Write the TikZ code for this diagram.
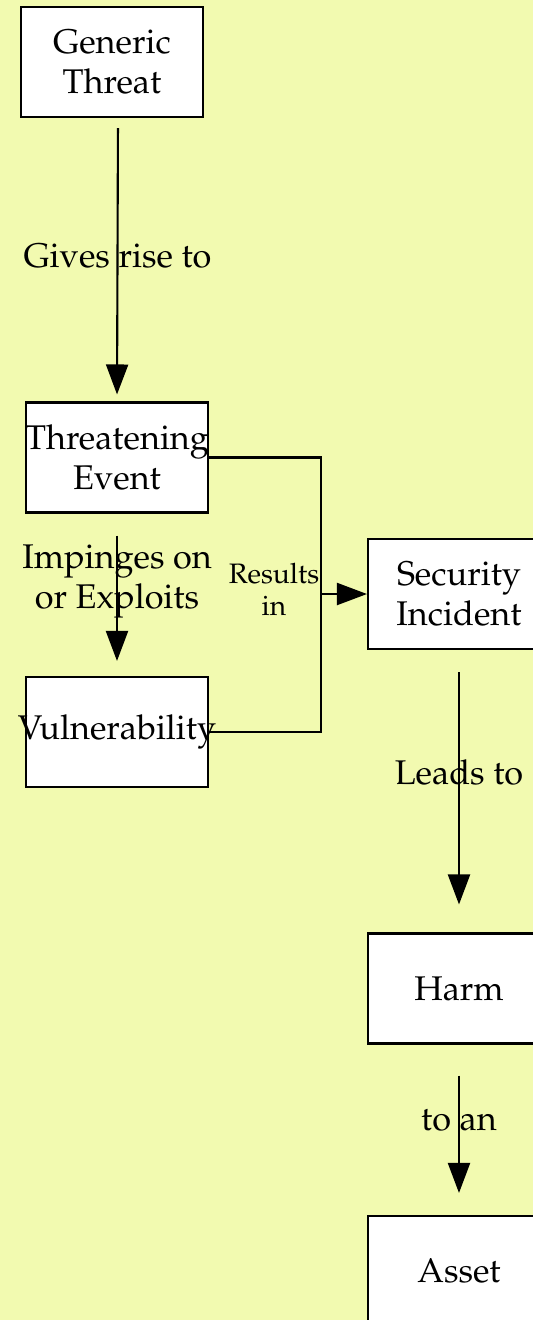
\documentclass[tikz,border=0pt]{standalone}
\usepackage[T1]{fontenc}
\usepackage{mathpazo}
\usetikzlibrary{positioning, arrows.meta, calc}
\definecolor{paper}{RGB}{242,250,176}

\begin{document}
\begin{tikzpicture}[
    % GLOBAL SETTINGS
    x=0.02cm, y=-0.02cm,
    % STYLES
    box/.style={rectangle, draw=black, fill=white, line width=1.2pt, minimum width=3.64cm, minimum height=2.2cm, inner sep=0pt, align=center, font=\fontsize{19.5}{22.6}\selectfont},
    wire/.style={draw, line width=1.2pt},
    link/.style={wire, -{Triangle[length=0.6cm, width=0.44cm]}},
    link_label/.style={inner sep=0pt, align=center, font=\fontsize{19.5}{22.6}\selectfont},
    small_label/.style={inner sep=0pt, align=center, font=\fontsize{16}{18.2}\selectfont}
]

    \useasboundingbox (0,0) rectangle (533,1320);
    \fill[paper] (0,0) rectangle (533,1320);
    \clip (0,0) rectangle (533,1320);

    % left column
    \node[box] (generic)     at (112,62)    {Generic\\Threat};
    \node[box] (threatening) at (117,457.5) {\makebox[0pt]{Threatening}\\Event};
    \node[box] (vuln)        at (117,732)   {\makebox[0pt]{Vulnerability}};

    % right column
    \node[box] (incident) at (459,594)    {Security\\Incident};
    \node[box] (harm)     at (459,988.5)  {Harm};
    \node[box] (asset)    at (459,1271)   {Asset};

    \coordinate (join) at (321,594);

    \draw[link, shorten <=0.2cm, shorten >=0.14cm] ([xshift=0.12cm]generic.south) -- (threatening.north)
        node[link_label, pos=0.486] (gives) {Gives rise to};
    \draw[link, shorten <=0.44cm, shorten >=0.3cm] (threatening.south) -- (vuln.north)
        node[link_label, pos=0.42] (impinges) {Impinges on\\or Exploits};

    % both meet and go on to the incident
    \draw[wire] (threatening.east) -| (join) |- (vuln.east);
    \draw[link] (join) -- (incident.west);
    \node[small_label] (results) at (274,589) {Results\\in};

    \draw[link, shorten <=0.44cm, shorten >=0.56cm] (incident.south) -- (harm.north)
        node[link_label, pos=0.433] (leads) {Leads to};
    \draw[link, shorten <=0.62cm, shorten >=0.44cm] (harm.south) -- (asset.north)
        node[link_label, pos=0.445] (toan) {to an};

\end{tikzpicture}
\end{document}
